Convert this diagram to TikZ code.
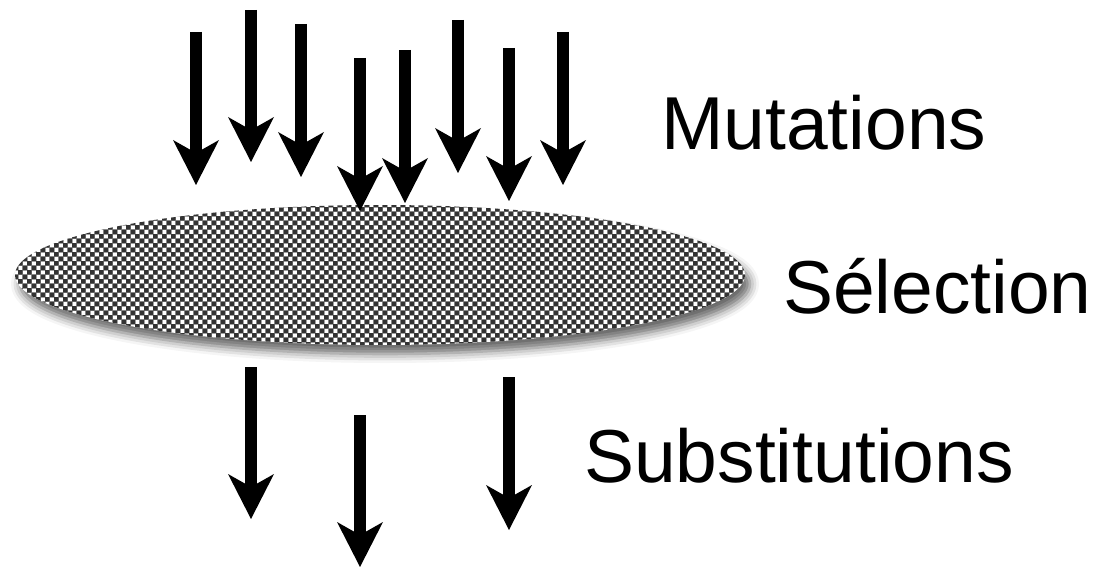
\documentclass[tikz,border=0pt]{standalone}
\usepackage{fontspec}
\setmainfont{Liberation Sans}
\usetikzlibrary{arrows.meta,shapes.geometric,shadows.blur}
\definecolor{checkdark}{HTML}{333333}
\tikzset{
  bigarrow/.style={line width=12pt,
    -{Stealth[length=45pt,width=46pt,inset=13pt,line width=0pt]}},
  label/.style={anchor=base west,inner sep=0pt,font=\fontsize{75}{90}\selectfont},
  selbox/.style={ellipse,minimum width=730pt,minimum height=140pt,inner sep=0pt,
    fill=white,
    blur shadow={shadow xshift=5pt,shadow yshift=-9pt,shadow blur radius=9pt,shadow opacity=60}},
  checkgrid/.style={draw=gray!60,line width=0.6pt}
}
\begin{document}
\begin{tikzpicture}[x=1pt,y=-1pt]
\useasboundingbox (0,0) rectangle (1093,567);
\node[selbox] (sel) at (380,275) {};
\begin{scope}
  \clip (sel.center) ellipse [x radius=365, y radius=70];
  \draw[checkgrid,step=4.5pt] (13.5,202.5) grid (747,346.5);
  \foreach \j in {0,...,31} {
    \pgfmathsetmacro\xo{13.5+4.5*mod(\j,2)}
    \pgfmathsetmacro\yo{202.5+4.5*\j}
    \fill[checkdark] foreach \i in {0,...,81} { ({\xo+9*\i},\yo) rectangle ++(4.5,4.5) };
  }
\end{scope}
% mutation arrows
\coordinate (m1s) at (196,32);  \coordinate (m1e) at (196,185);
\coordinate (m2s) at (251,10);  \coordinate (m2e) at (251,162);
\coordinate (m3s) at (301,24);  \coordinate (m3e) at (301,177);
\coordinate (m4s) at (360,58);  \coordinate (m4e) at (360,211);
\coordinate (m5s) at (405,50);  \coordinate (m5e) at (405,203);
\coordinate (m6s) at (458,20);  \coordinate (m6e) at (458,173);
\coordinate (m7s) at (509,48);  \coordinate (m7e) at (509,201);
\coordinate (m8s) at (563,32);  \coordinate (m8e) at (563,185);
\foreach \i in {1,...,8} \draw[bigarrow] (m\i s) -- (m\i e);
% substitution arrows
\coordinate (s1s) at (251,367); \coordinate (s1e) at (251,519);
\coordinate (s2s) at (360,415); \coordinate (s2e) at (360,567);
\coordinate (s3s) at (509,377); \coordinate (s3e) at (509,530);
\foreach \i in {1,2,3} \draw[bigarrow] (s\i s) -- (s\i e);
% labels
\node[label] (mut) at (661,150) {Mutations};
\node[label] (seltxt) at (783,313) {Sélection};
\node[label] (sub) at (584,482) {Substitutions};
\end{tikzpicture}
\end{document}
